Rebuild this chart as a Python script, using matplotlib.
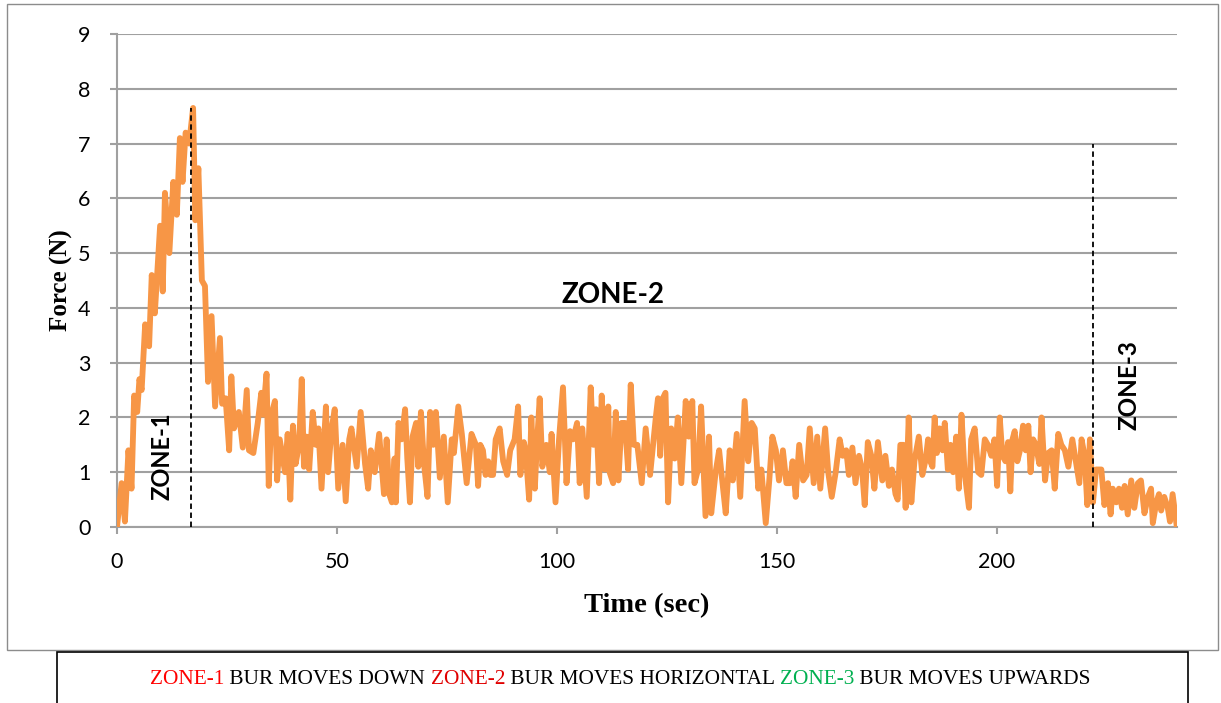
import matplotlib
matplotlib.use('Agg')
import matplotlib.pyplot as plt
from matplotlib.patches import Rectangle

# ----------------------------------------------------------------- DATA
tempo = [0, 1.05, 1.8, 2.6, 3.3, 3.9, 4.6, 5.1, 5.6, 6.4, 7.3, 7.9, 8.6, 9.8, 10.4, 10.9, 11.9, 12.8,
         13.6, 14.3, 14.9, 15.6, 16.4, 17.3, 17.8, 18.5, 19.3, 20.0,
         20.7, 21.5, 22.3, 23.4, 23.9, 24.7, 25.5, 26.0, 26.6, 27.7, 28.6, 29.5, 30.0, 31.0, 32.0, 32.8,
         33.2, 34.0, 34.5, 35.1, 35.9, 36.4, 37.0, 38.2, 38.8, 39.4, 40.0, 40.6,
         41.4, 42.0, 42.5, 43.1, 43.7, 44.5, 45.2, 45.8, 46.5, 47.5, 48.0, 48.8, 49.5, 50.3, 51.3, 52.0,
         52.8, 53.3, 54.5, 55.4, 56.4, 57.1, 57.7, 58.6, 59.6,
         60.7, 61.3, 61.9, 62.5, 63.1, 63.4, 64.0, 64.7, 65.5, 66.0, 66.6, 67.2, 68.0, 68.5, 69.1, 69.8,
         70.6, 71.2, 71.9, 72.5, 73.4, 74.3, 75.2, 76.1, 76.6, 77.6, 78.4, 79.5, 80.6,
         81.6, 82.1, 82.6, 83.2, 83.8, 84.4, 84.9, 85.5, 86.1, 87.0, 87.8, 88.7, 89.4, 90.4, 91.2, 91.7,
         92.5, 92.9, 93.7, 94.2, 95.0, 95.4, 96.1, 96.7, 97.6, 98.4, 98.8, 99.7, 100.5, 101.4,
         102.2, 103.0, 103.7, 104.6, 105.2, 105.8, 106.8, 107.7, 108.3, 108.9, 109.6, 110.2, 110.9, 111.7,
         112.0, 112.8, 113.4, 114.0, 114.7, 115.5, 116.2, 116.8, 117.5, 118.3, 119.3, 120.2, 121.2,
         122.5, 123.0, 123.5, 124.1, 124.7, 125.3, 126.0, 126.8, 127.5, 128.3, 129.3, 130.0, 130.8, 131.3,
         132.1, 132.8, 133.8, 134.6, 135.1, 136.1, 136.9, 137.6, 138.4, 139.3, 140.0, 140.9, 141.7, 142.7,
         143.5, 144.3, 145.0, 145.8, 146.5, 147.5, 148.3, 149.0, 149.8, 150.5, 151.4, 152.2, 153.0, 153.6,
         154.3, 155.1, 156.0, 156.8, 157.5, 158.4, 159.2, 159.9, 161.0, 161.7,
         162.5, 163.4, 164.3, 165.0, 165.8, 166.4, 167.2, 167.9, 168.7, 169.4, 170.0, 170.7, 171.5, 172.2,
         173.0, 174.0, 174.7, 175.5, 176.2, 177.0, 177.5, 178.1, 178.8, 179.3, 180.0, 180.6, 181.3, 182.3,
         183.1, 183.9, 184.4, 184.9, 185.4, 185.9, 186.4, 187.0, 187.7, 188.2, 188.9, 189.5, 190.1, 190.8,
         191.4, 192.0, 192.7, 193.7, 194.2, 195.0, 195.8, 196.5, 197.3, 198.0, 198.8, 199.5, 200.1, 200.7,
         201.3, 202.0, 202.6, 203.1,
         203.6, 204.1, 204.7, 205.3, 206.0, 206.6, 207.2, 207.7, 208.3, 208.9, 209.7, 210.2, 211.0, 211.7,
         212.5, 213.2, 214.0, 214.7, 215.5, 216.3, 217.2, 218.0, 218.8, 219.3, 220.0, 220.6, 221.2,
         221.9, 222.6, 223.8, 224.5, 225.3, 225.9, 226.4, 227.2, 227.8, 228.5, 229.1, 229.8, 230.6, 231.3,
         232.1, 232.8, 233.6, 234.4, 235.1, 235.5, 236.3, 236.9, 237.4, 238.1, 238.9, 239.4, 240.0, 240.9]

forca = [0, 0.8, 0.1, 1.4, 0.7, 2.4, 2.1, 2.7, 2.5, 3.7, 3.3, 4.6, 3.9, 5.5, 4.3, 6.1, 5.0, 6.3,
         5.7, 7.1, 6.3, 7.2, 7.0, 7.65, 5.6, 6.55, 4.5, 4.4,
         2.65, 3.85, 2.2, 3.45, 2.25, 2.35, 1.4, 2.75, 1.8, 2.1, 1.45, 2.5, 1.4, 1.35, 1.9, 2.45,
         2.05, 2.8, 0.75, 2.05, 2.3, 0.85, 1.6, 1.0, 1.7, 0.5, 1.85, 1.15,
         1.5, 2.7, 1.1, 1.65, 1.05, 2.1, 1.5, 1.8, 0.7, 2.2, 1.0, 1.8, 2.15, 0.7, 1.5, 0.47,
         1.6, 1.8, 1.1, 2.1, 1.15, 0.7, 1.4, 1.0, 1.7,
         0.6, 1.6, 0.6, 0.45, 1.25, 0.45, 1.9, 1.6, 2.15, 1.25, 0.45, 1.65, 1.9, 1.1, 2.1, 1.15,
         0.55, 2.1, 1.5, 2.1, 0.9, 1.65, 0.45, 1.6, 1.35, 2.2, 1.7, 0.8, 1.7,
         1.5, 0.75, 1.5, 1.4, 0.95, 1.2, 0.95, 0.95, 1.6, 1.8, 1.2, 0.95, 1.4, 1.6, 2.2, 0.95,
         1.55, 1.4, 0.5, 2.0, 0.7, 1.4, 2.35, 1.1, 1.5, 1.0, 1.7, 0.45, 1.6, 2.55,
         0.8, 1.75, 1.6, 1.9, 0.8, 1.8, 0.55, 2.55, 1.5, 2.15, 0.8, 2.4, 1.05, 2.2,
         1.0, 0.8, 2.1, 0.85, 1.9, 1.9, 1.05, 2.6, 1.5, 1.5, 0.8, 1.8, 0.95,
         2.0, 2.35, 1.3, 2.35, 2.45, 0.45, 1.8, 1.25, 2.0, 0.8, 2.3, 1.65, 2.3, 0.8,
         1.05, 2.2, 0.2, 1.65, 0.25, 1.0, 1.4, 0.85, 0.25, 1.4, 0.85, 1.7, 0.55, 2.3,
         1.2, 1.9, 1.8, 0.7, 1.05, 0.07, 0.85, 1.65, 1.4, 0.85, 1.4, 0.8, 0.8, 1.2,
         0.55, 1.5, 0.85, 0.95, 1.8, 0.8, 1.65, 0.7, 1.8, 1.0,
         0.55, 1.0, 1.6, 1.3, 1.4, 0.95, 1.45, 0.8, 1.3, 1.05, 0.4, 1.55, 1.3, 0.7,
         1.55, 0.85, 1.3, 0.75, 1.05, 0.6, 0.5, 1.5, 1.5, 0.35, 2.0, 0.45, 1.2, 1.65,
         0.95, 1.25, 1.6, 1.2, 1.1, 2.0, 1.35, 1.8, 1.4, 1.9, 1.05, 1.5, 1.0, 1.65,
         0.7, 2.05, 1.0, 0.35, 1.6, 1.8, 1.0, 0.95, 1.6, 1.5, 1.3, 1.6, 0.75, 2.0,
         1.3, 1.2, 1.55, 0.65,
         1.6, 1.75, 1.2, 1.4, 1.85, 1.4, 1.85, 1.0, 1.6, 1.5, 1.15, 2.0, 0.85, 1.35,
         1.4, 0.7, 1.7, 1.5, 1.4, 1.1, 1.6, 1.2, 0.8, 1.6, 1.3, 0.4, 1.6,
         0.45, 1.05, 1.05, 0.4, 0.8, 0.23, 0.7, 0.45, 0.7, 0.35, 0.75, 0.23, 0.85, 0.35,
         0.8, 0.85, 0.25, 0.55, 0.7, 0.07, 0.45, 0.6, 0.3, 0.55, 0.35, 0.1, 0.6, 0.04]

limites_zona = [16.8, 222.0]        # tempos das linhas tracejadas
altura_limite = [7.65, 7.0]         # altura de cada linha tracejada
rotulos_zona = ['ZONE-1', 'ZONE-2', 'ZONE-3']
ticks_y = list(range(0, 10))
ticks_x = [0, 50, 100, 150, 200]

legenda = [('ZONE-1', '#ff0000'), (' BUR MOVES DOWN ', 'black'),
           ('ZONE-2', '#e00000'), (' BUR MOVES HORIZONTAL ', 'black'),
           ('ZONE-3', '#00b050'), (' BUR MOVES UPWARDS', 'black')]

# ----------------------------------------------------------------- FIGURA
fig = plt.figure(figsize=(12.21, 7.03), dpi=100)
ax = fig.add_axes([117 / 1221, 1 - 527 / 703, (1177 - 117) / 1221, (527 - 34) / 703])

# moldura externa cinza e caixa da legenda
fig.patches.append(Rectangle((7 / 1221, 1 - 650 / 703), (1218 - 7) / 1221, (650 - 4) / 703,
                             transform=fig.transFigure, fill=False, edgecolor='#8c8c8c', lw=1))
fig.patches.append(Rectangle((57 / 1221, -0.01), (1188 - 57) / 1221, (703 - 652) / 703 + 0.01,
                             transform=fig.transFigure, fill=False, edgecolor='black', lw=1.2))

ax.plot(tempo, forca, color='#f79646', lw=4.2, solid_joinstyle='round', zorder=3)

for t, h in zip(limites_zona, altura_limite):
    ax.plot([t, t], [0, h], color='black', lw=1.3, linestyle=(0, (3, 2)), zorder=4)

ax.set_xlim(0, 241)
ax.set_ylim(0, 9)
ax.set_yticks(ticks_y)
ax.set_xticks(ticks_x)
ax.grid(axis='y', color='#a0a0a0', lw=1.5)
ax.set_axisbelow(True)
for s in ['top', 'right']:
    ax.spines[s].set_visible(False)
ax.spines['left'].set_color('#a0a0a0')
ax.spines['bottom'].set_color('#a0a0a0')
ax.spines['left'].set_linewidth(1.5)
ax.spines['bottom'].set_linewidth(1.5)
ax.tick_params(axis='y', length=5, width=1.5, color='#a0a0a0', pad=14, labelsize=15.5)
ax.tick_params(axis='x', length=5, width=1.5, color='#a0a0a0', pad=13, labelsize=15.5)
for lb in ax.get_xticklabels() + ax.get_yticklabels():
    lb.set_family('Lato')

ax.set_xlabel('Time (sec)', family='Liberation Serif', fontweight='bold', fontsize=20.5, labelpad=15)
ax.set_ylabel('Force (N)', family='Liberation Serif', fontweight='bold', fontsize=18, labelpad=4)

fz = dict(family='Lato', fontweight='bold', ha='center', va='center')
ax.text(10.2, 1.3, rotulos_zona[0], rotation=90, fontsize=17, **fz)
ax.text(112.7, 4.23, rotulos_zona[1], fontsize=20, **fz)
ax.text(230.2, 2.6, rotulos_zona[2], rotation=90, fontsize=17.5, **fz)

# legenda com pedacos coloridos encadeados
prev = fig.text(150 / 1221, 1 - 684 / 703, legenda[0][0], color=legenda[0][1],
                family='Liberation Serif', fontsize=15.4)
for txt, cor in legenda[1:]:
    prev = ax.annotate(txt, xy=(1, 0), xycoords=prev, xytext=(0, 0), textcoords='offset points',
                       color=cor, family='Liberation Serif', fontsize=15.4, va='bottom',
                       annotation_clip=False)

fig.savefig('out.png', dpi=100)
